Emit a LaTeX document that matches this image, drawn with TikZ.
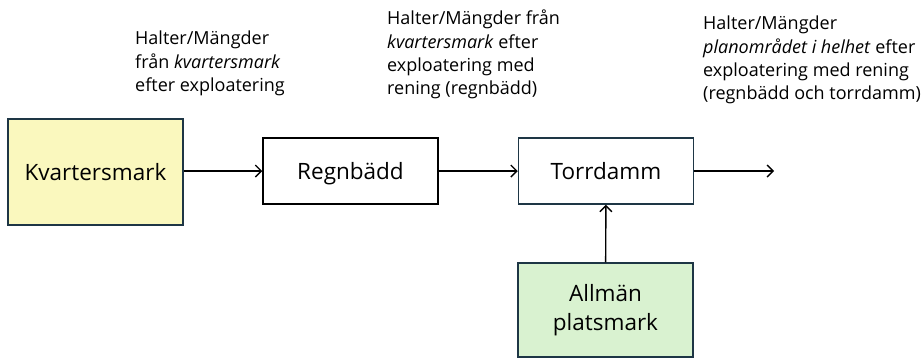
\documentclass[tikz,border=0pt]{standalone}
\usepackage{fontspec}
\setmainfont{Open Sans}
\usetikzlibrary{arrows.meta}
\definecolor{yel}{HTML}{FAF8BE}
\definecolor{grn}{HTML}{D9F2D0}
\definecolor{edge}{HTML}{1E3645}
\tikzset{
  box/.style={draw=edge, line width=1.5pt, minimum width=175pt, font=\fontsize{22.5}{29}\selectfont, inner sep=0pt, align=center},
  single/.style={text height=16pt, text depth=0pt},
  note/.style={anchor=north west, align=left, inner sep=0pt, font=\fontsize{18}{23.3}\selectfont},
  flow/.style={line width=1.4pt, -{Straight Barb[length=6pt,width=12pt,line width=1.4pt]}}
}
\begin{document}
\begin{tikzpicture}[x=1pt,y=-1pt]
\useasboundingbox (0,0) rectangle (924,360);
\node[box, single, fill=yel, minimum height=106pt] (kv) at (95.5,172) {Kvartersmark};
\node[box, single, draw=black, minimum height=66pt] (rb) at (350.5,171) {Regnbädd};
\node[box, single, minimum height=66pt] (td) at (606,171) {Torrdamm};
\node[box, fill=grn, minimum height=94pt] (ap) at (605.5,310) {\raisebox{-3pt}{\shortstack{Allmän\\[8pt]platsmark}}};
\coordinate (out) at (774,171);
\draw[flow] (kv.east |- rb.west) -- (rb.west);
\draw[flow] (rb) -- (td);
\draw[flow] (td.east) -- (out);
\draw[flow] (ap) -- (td);
\node[note] (n1) at (135,31) {Halter/Mängder\\från \textit{kvartersmark}\\efter exploatering};
\node[note] (n2) at (387,10) {Halter/Mängder från\\\textit{kvartersmark} efter\\exploatering med\\rening (regnbädd)};
\node[note] (n3) at (703,16) {Halter/Mängder\\\textit{planområdet i helhet} efter\\exploatering med rening\\(regnbädd och torrdamm)};
\end{tikzpicture}
\end{document}
